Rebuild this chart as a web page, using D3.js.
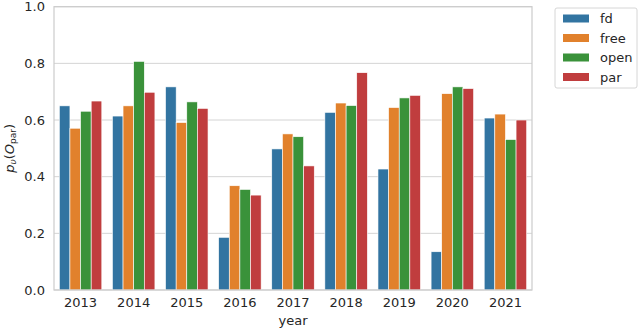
<!DOCTYPE html>
<html>
<head>
<meta charset="utf-8">
<script src="https://cdn.jsdelivr.net/npm/d3@7"></script>
<style>
  body { margin: 0; background: #fff; }
  text { font-family: "DejaVu Sans", sans-serif; fill: #262626; }
</style>
</head>
<body>
<div id="chart"></div>
<script>
var years = ['2013','2014','2015','2016','2017','2018','2019','2020','2021'];
var groups = ['fd','free','open','par'];
var fd   = [0.650, 0.614, 0.717, 0.186, 0.498, 0.627, 0.427, 0.135, 0.607];
var free = [0.571, 0.650, 0.591, 0.368, 0.551, 0.660, 0.644, 0.693, 0.621];
var open = [0.631, 0.807, 0.664, 0.355, 0.541, 0.651, 0.678, 0.717, 0.531];
var par  = [0.667, 0.698, 0.641, 0.335, 0.438, 0.767, 0.687, 0.711, 0.600];
var yTicks = [0.0, 0.2, 0.4, 0.6, 0.8, 1.0];
var colors = ['#3274a1', '#e1812c', '#3a923a', '#c03d3e'];

var series = {fd: fd, free: free, open: open, par: par};
var rows = [];
years.forEach(function(y, i) {
  groups.forEach(function(g) {
    rows.push({year: y, group: g, value: series[g][i]});
  });
});

var W = 640, H = 328;
var margin = {top: 6.7, right: 108, bottom: 38, left: 54};
var width = W - margin.left - margin.right,
    height = H - margin.top - margin.bottom;

var svg = d3.select('#chart').append('svg')
    .attr('width', W).attr('height', H);
var g = svg.append('g')
    .attr('transform', 'translate(' + margin.left + ',' + margin.top + ')');

var x = d3.scaleBand().domain(years).range([0, width]).paddingInner(0.2).paddingOuter(0.1);
var xs = d3.scaleBand().domain(groups).range([0, x.bandwidth()]);
var y = d3.scaleLinear().domain([0, 1]).range([height, 0]);
var color = d3.scaleOrdinal().domain(groups).range(colors);

// grid
g.selectAll('.grid').data(yTicks).enter().append('line')
  .attr('x1', 0).attr('x2', width)
  .attr('y1', function(d) { return y(d); }).attr('y2', function(d) { return y(d); })
  .attr('stroke', '#d4d4d4').attr('stroke-width', 1);

// bars
g.selectAll('.bar').data(rows).enter().append('rect')
  .attr('x', function(d) { return x(d.year) + xs(d.group); })
  .attr('y', function(d) { return y(d.value); })
  .attr('width', xs.bandwidth())
  .attr('height', function(d) { return height - y(d.value); })
  .attr('fill', function(d) { return color(d.group); })
  .attr('stroke', '#fff').attr('stroke-width', 0.6);

// frame
g.append('rect').attr('x', 0).attr('y', 0).attr('width', width).attr('height', height)
  .attr('fill', 'none').attr('stroke', '#cccccc').attr('stroke-width', 1.2);

// axes
var xAxis = g.append('g').attr('transform', 'translate(0,' + height + ')')
  .call(d3.axisBottom(x).tickSize(0).tickPadding(8));
var yAxis = g.append('g')
  .call(d3.axisLeft(y).tickValues(yTicks).tickFormat(d3.format('.1f')).tickSize(0).tickPadding(9));
[xAxis, yAxis].forEach(function(a) {
  a.select('.domain').remove();
  a.selectAll('text').style('font-size', '13px').style('font-family', '"DejaVu Sans", sans-serif').attr('fill', '#262626');
});

// axis labels
svg.append('text').attr('x', margin.left + width / 2).attr('y', 325)
  .attr('text-anchor', 'middle').style('font-size', '13px').text('year');

var yl = svg.append('text')
  .attr('transform', 'translate(14,' + (margin.top + height / 2) + ') rotate(-90)')
  .attr('text-anchor', 'middle').style('font-size', '13px');
yl.append('tspan').style('font-style', 'italic').text('p');
yl.append('tspan').attr('baseline-shift', '-25%').style('font-size', '9px').style('font-style', 'italic').text('υ');
yl.append('tspan').text('(');
yl.append('tspan').style('font-style', 'italic').text('O');
yl.append('tspan').attr('baseline-shift', '-25%').style('font-size', '9px').text('par');
yl.append('tspan').text(')');

// legend
var lg = svg.append('g').attr('transform', 'translate(555,8)');
lg.append('rect').attr('width', 82).attr('height', 80).attr('rx', 2)
  .attr('fill', '#fff').attr('stroke', '#cccccc').attr('stroke-width', 0.8);
groups.forEach(function(k, i) {
  var it = lg.append('g').attr('transform', 'translate(0,' + (9.5 + i * 19.5) + ')');
  it.append('rect').attr('x', 8).attr('y', -3).attr('width', 26).attr('height', 8).attr('fill', color(k));
  it.append('text').attr('x', 45).attr('y', 5.5).style('font-size', '13px').text(k);
});
</script>
</body>
</html>
